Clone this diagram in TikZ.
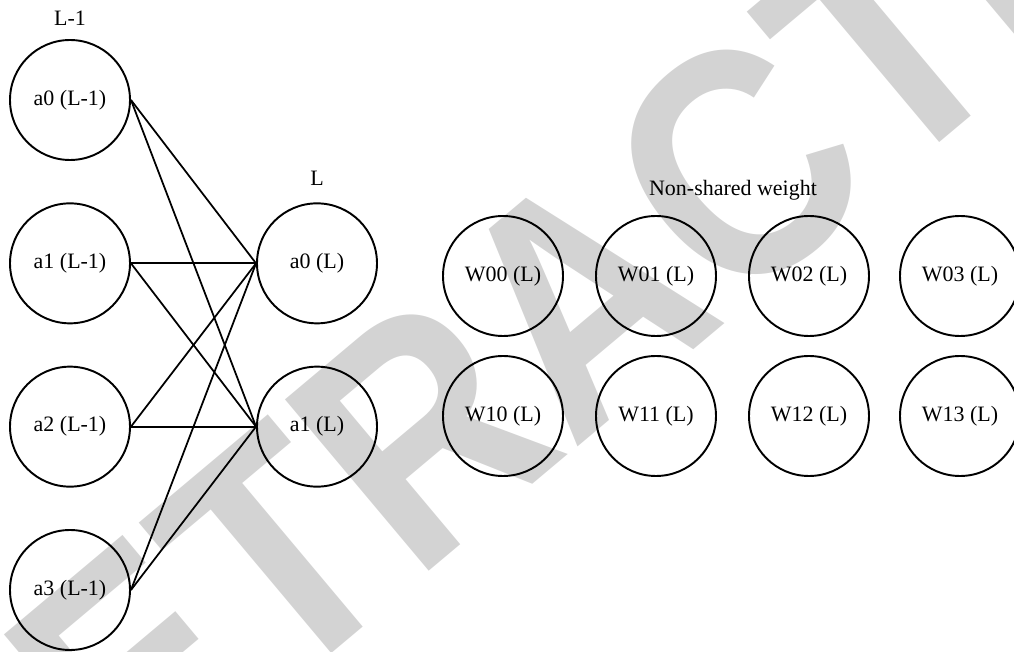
\documentclass[tikz,border=0pt]{standalone}
\usepackage{fontspec}
\setmainfont{Liberation Serif}
\newfontfamily\stampfont{Liberation Sans}
\usepackage{xcolor}
\usetikzlibrary{positioning}
\definecolor{stampgray}{HTML}{d3d3d3}

\begin{document}
\begin{tikzpicture}[
  neuron/.style={
    draw, circle, line width=1.1pt, minimum size=2.4cm,
    inner sep=0pt, font=\fontsize{12.5}{14}\selectfont
  },
  weight/.style={neuron},
  layerlabel/.style={font=\fontsize{12.5}{14}\selectfont},
  link/.style={line width=1pt},
  watermark/.style={
    text=stampgray, rotate=40, xscale=0.88, inner sep=0pt,
    font=\stampfont\bfseries\fontsize{185}{190}\selectfont
  }
]

\useasboundingbox (0,0) rectangle (20.28,13.04);
\begin{scope}
  \clip (0,0) rectangle (20.28,13.04);
  \node[watermark] (stamp) at (11.59,7.06) {RETRACTED};
\end{scope}

\node[neuron] (a0prev) at (1.4, 11.04) {a0 (L-1)};
\node[neuron] (a1prev) at (1.4, 7.773) {a1 (L-1)};
\node[neuron] (a2prev) at (1.4, 4.507) {a2 (L-1)};
\node[neuron] (a3prev) at (1.4, 1.24) {a3 (L-1)};
\node[layerlabel] (prevlabel) at (1.4, 12.68) {L-1};

\node[neuron] (a0cur) at (6.34, 7.773) {a0 (L)};
\node[neuron] (a1cur) at (6.34, 4.507) {a1 (L)};
\node[layerlabel] (curlabel) at (6.34, 9.48) {L};

\draw[link] (a0prev.east) -- (a0cur.west);
\draw[link] (a0prev.east) -- (a1cur.west);
\draw[link] (a1prev.east) -- (a0cur.west);
\draw[link] (a1prev.east) -- (a1cur.west);
\draw[link] (a2prev.east) -- (a0cur.west);
\draw[link] (a2prev.east) -- (a1cur.west);
\draw[link] (a3prev.east) -- (a0cur.west);
\draw[link] (a3prev.east) -- (a1cur.west);

\node[layerlabel] (wlabel) at (14.66, 9.24) {Non-shared weight};
\node[weight] (w00) at (10.06, 7.52) {W00 (L)};
\node[weight] (w01) at (13.12, 7.52) {W01 (L)};
\node[weight] (w02) at (16.18, 7.52) {W02 (L)};
\node[weight] (w03) at (19.2, 7.52) {W03 (L)};
\node[weight] (w10) at (10.06, 4.72) {W10 (L)};
\node[weight] (w11) at (13.12, 4.72) {W11 (L)};
\node[weight] (w12) at (16.18, 4.72) {W12 (L)};
\node[weight] (w13) at (19.2, 4.72) {W13 (L)};

\end{tikzpicture}
\end{document}
